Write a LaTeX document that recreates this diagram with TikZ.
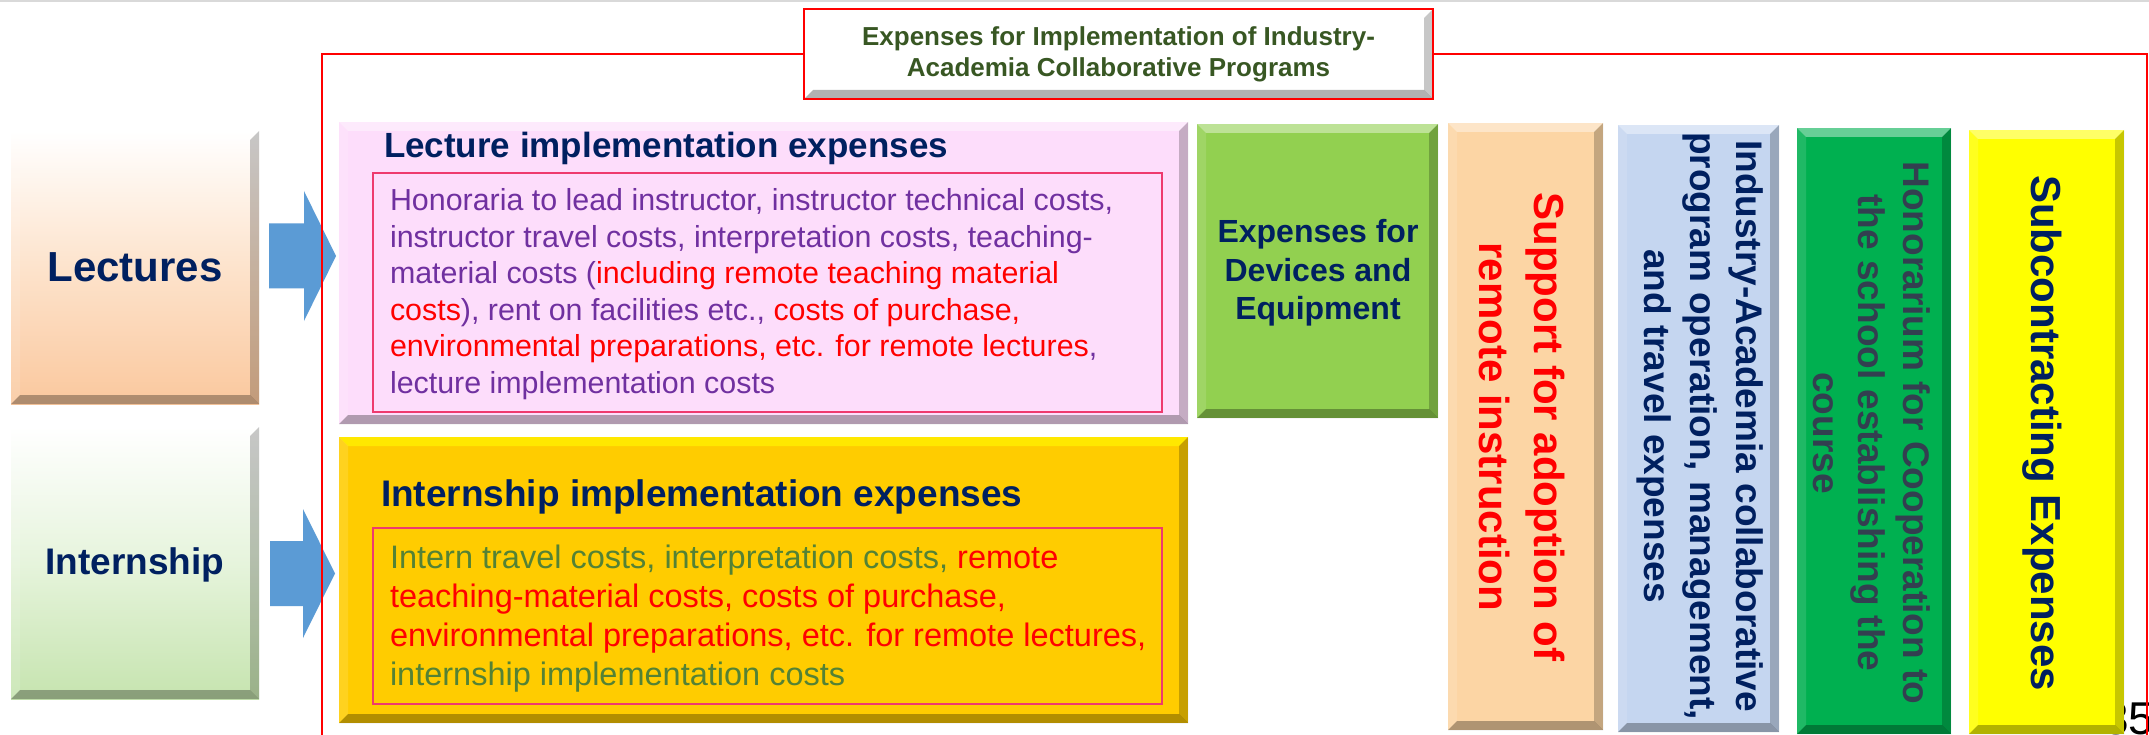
\documentclass[tikz,border=0pt]{standalone}
\usepackage{fontspec}
\setmainfont{Liberation Sans}
\usetikzlibrary{calc}
\definecolor{navy}{HTML}{002060}
\definecolor{olivetxt}{HTML}{385723}
\definecolor{purpletxt}{HTML}{7030A0}
\definecolor{greentxt}{HTML}{548235}
\definecolor{redtxt}{HTML}{FF0000}
\definecolor{slatetxt}{HTML}{333F50}
\definecolor{arrowblue}{HTML}{5B9BD5}
\definecolor{framered}{HTML}{FF0000}
\definecolor{innerred}{HTML}{EE3A6E}
\definecolor{pinkfill}{HTML}{FDDDFB}
\definecolor{goldfill}{HTML}{FFCC00}
\definecolor{limefill}{HTML}{92D050}
\definecolor{peachfill}{HTML}{FCD5A4}
\definecolor{bluefill}{HTML}{C5D6F0}
\definecolor{greenfill}{HTML}{00B050}
\definecolor{yellowfill}{HTML}{FFFF00}
\definecolor{peachbot}{HTML}{FAC89E}
\definecolor{peachmid}{HTML}{FDE3CC}
\definecolor{greenbot}{HTML}{C6E4AF}
\definecolor{greenmid}{HTML}{E6F4DC}
\tikzset{
  bev/.style={path picture={
    \coordinate (bvnw) at (path picture bounding box.north west);
    \coordinate (bvne) at (path picture bounding box.north east);
    \coordinate (bvsw) at (path picture bounding box.south west);
    \coordinate (bvse) at (path picture bounding box.south east);
    \fill[#1] (bvnw) -- (bvne) -- ([shift={(-9pt,-9pt)}]bvne) -- ([shift={(9pt,-9pt)}]bvnw) -- cycle;
    \fill[white,opacity=.12] (bvnw) -- ([shift={(9pt,-9pt)}]bvnw) -- ([shift={(9pt,9pt)}]bvsw) -- (bvsw) -- cycle;
    \fill[black,opacity=.22] (bvne) -- (bvse) -- ([shift={(-9pt,9pt)}]bvse) -- ([shift={(-9pt,-9pt)}]bvne) -- cycle;
    \fill[black,opacity=.3] (bvsw) -- (bvse) -- ([shift={(-9pt,9pt)}]bvse) -- ([shift={(9pt,9pt)}]bvsw) -- cycle;
  }},
  bev/.default={white,opacity=.4},
  boxnode/.style={rectangle, inner sep=0pt, outer sep=0pt, draw=none},
  txt/.style={inner sep=0pt, outer sep=0pt},
  inner/.style={rectangle, draw=innerred, line width=1.6pt, inner sep=0pt},
}
\begin{document}
\begin{tikzpicture}[x=1pt,y=-1pt]
\useasboundingbox (0,0) rectangle (2149,735);
\clip (0,0) rectangle (2149,735);
\fill[white] (0,0) rectangle (2149,735);
\draw[black!15, line width=2pt] (0,1) -- (2149,1);

% page number (partly hidden)
\node[txt, anchor=base west, font=\fontsize{46}{50}\selectfont] (pg) at (2103,734) {35};

% side boxes
\node[boxnode, bev, top color=white, bottom color=peachbot, middle color=peachmid,
      minimum width=248, minimum height=273] (lect) at (135,267.5) {};
\node[txt, font=\bfseries\fontsize{42}{50}\selectfont, text=navy] (lectT) at (lect.center) {Lectures};

\node[boxnode, bev, top color=white, bottom color=greenbot, middle color=greenmid,
      minimum width=248, minimum height=272] (intern) at (135,563) {};
\node[txt, font=\bfseries\fontsize{37}{44}\selectfont, text=navy] (internT) at ([yshift=-2pt]intern.center) {Internship};

% block arrows
\fill[arrowblue] (269,223.5) -- (304,223.5) -- (304,191) -- (336,256) -- (304,321) -- (304,288.5) -- (269,288.5) -- cycle;
\fill[arrowblue] (270,541) -- (303,541) -- (303,509) -- (335,573.5) -- (303,638) -- (303,606) -- (270,606) -- cycle;

% red frame
\draw[framered, line width=2.2pt] (322,760) -- (322,54) -- (2147,54) -- (2147,760);

% title
\node[boxnode, draw=framered, line width=2pt, fill=white, bev={white,opacity=0},
      minimum width=629, minimum height=90, align=center,
      font=\bfseries\fontsize{26}{31}\selectfont, text=olivetxt] (title) at (1118.5,54)
      {Expenses for Implementation of Industry-\\Academia Collaborative Programs};

% lecture implementation expenses
\node[boxnode, fill=pinkfill, bev, minimum width=849, minimum height=302] (pink) at (763.5,273) {};
\node[inner, minimum width=789, minimum height=239] (pinkin) at (767.5,292.5) {};
\node[txt, anchor=base west, font=\bfseries\fontsize{35}{42}\selectfont, text=navy] (ltitle) at (384,158) {Lecture implementation expenses};
\node[txt, anchor=north west, align=left, font=\fontsize{30.4}{36.6}\selectfont, text=purpletxt] (lbody) at (390,188.5)
{Honoraria to lead instructor, instructor technical costs,\\
instructor travel costs, interpretation costs, teaching-\\
material costs (\textcolor{redtxt}{including remote teaching material}\\
\textcolor{redtxt}{costs}), rent on facilities etc., \textcolor{redtxt}{costs of purchase,}\\
\textcolor{redtxt}{environmental preparations, etc. for remote lectures},\\
lecture implementation costs};

% internship implementation expenses
\node[boxnode, fill=goldfill, bev={yellow,opacity=.75}, minimum width=849, minimum height=286] (gold) at (763.5,580) {};
\node[inner, minimum width=789, minimum height=176] (goldin) at (767.5,616) {};
\node[txt, anchor=base west, font=\bfseries\fontsize{37}{44}\selectfont, text=navy] (ititle) at (381,506) {Internship implementation expenses};
\node[txt, anchor=north west, align=left, font=\fontsize{32.5}{39}\selectfont, text=greentxt] (ibody) at (390,545)
{Intern travel costs, interpretation costs, \textcolor{redtxt}{remote}\\
\textcolor{redtxt}{teaching-material costs, costs of purchase,}\\
\textcolor{redtxt}{environmental preparations, etc. for remote lectures,}\\
internship implementation costs};

% devices and equipment
\node[boxnode, fill=limefill, bev, minimum width=241, minimum height=294] (dev) at (1317.5,271) {};
\node[txt, align=center, font=\bfseries\fontsize{32}{38.5}\selectfont, text=navy] (devT) at (1318,273)
{Expenses for\\Devices and\\Equipment};

% vertical boxes
\node[boxnode, fill=peachfill, bev, minimum width=155, minimum height=607] (remote) at (1525.5,426.5) {};
\node[txt, rotate=-90, align=center, font=\bfseries\fontsize{42}{55}\selectfont, text=redtxt] (remoteT) at (1521.5,427)
{Support for adoption of\\remote instruction};

\node[boxnode, fill=bluefill, bev, minimum width=161, minimum height=607] (iac) at (1698.5,428.5) {};
\node[txt, rotate=-90, align=center, font=\bfseries\fontsize{37}{46}\selectfont, text=navy] (iacT) at (1700,426)
{Industry-Academia collaborative\\program operation, management,\\and travel expenses};

\node[boxnode, fill=greenfill, bev, minimum width=154, minimum height=606] (hon) at (1874,431) {};
\node[txt, rotate=-90, align=center, font=\bfseries\fontsize{37}{45}\selectfont, text=slatetxt] (honT) at (1871.5,433)
{Honorarium for Cooperation to\\the school establishing the\\course};

\node[boxnode, fill=yellowfill, bev, minimum width=155, minimum height=604] (sub) at (2046.5,432) {};
\node[txt, rotate=-90, font=\bfseries\fontsize{42}{50}\selectfont, text=navy] (subT) at (2042,433)
{Subcontracting Expenses};
\end{tikzpicture}
\end{document}
